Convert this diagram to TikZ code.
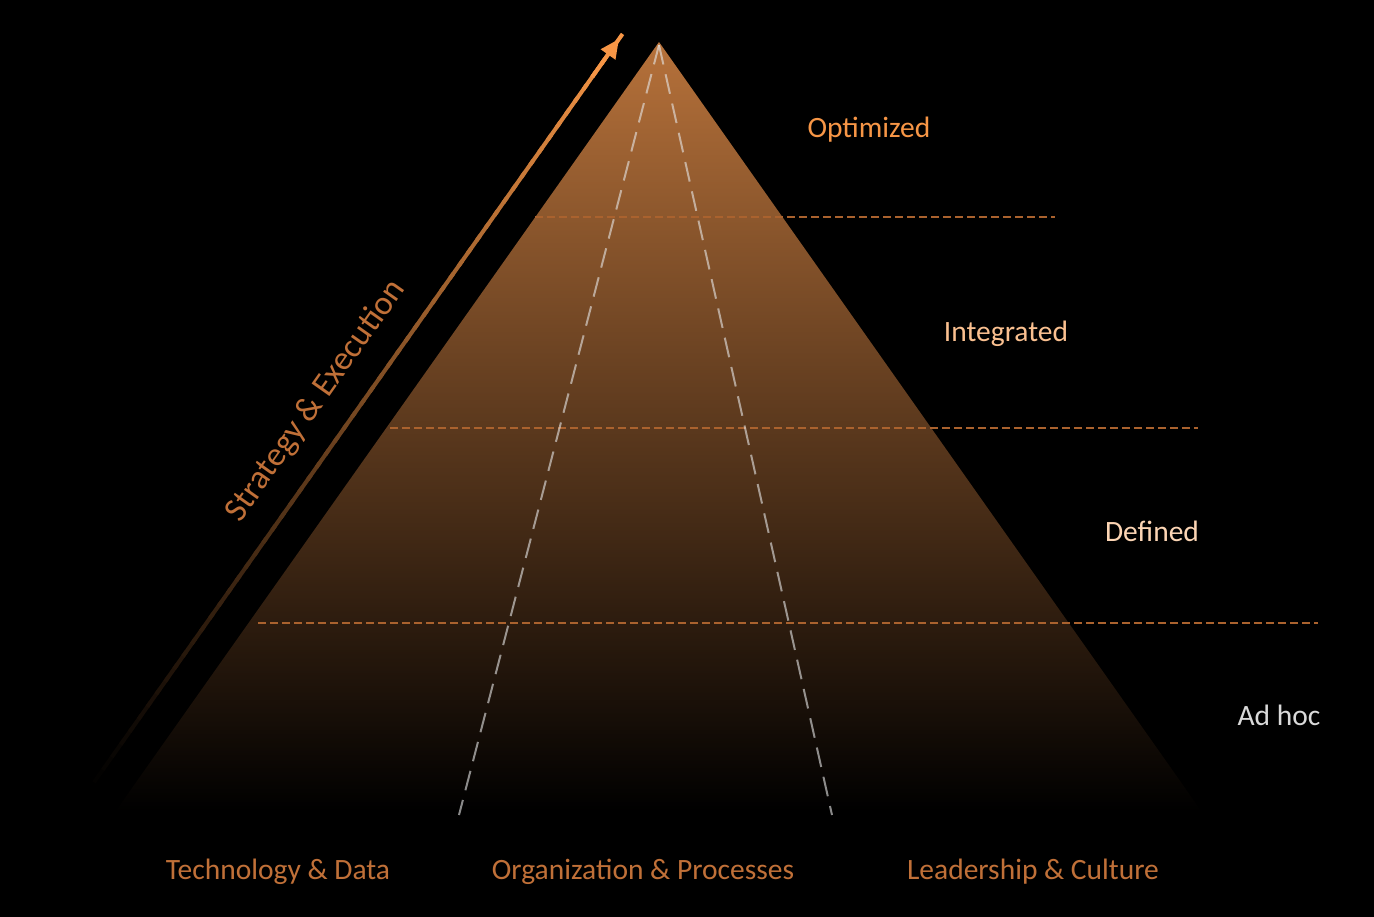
\documentclass[tikz,border=0pt]{standalone}
\usepackage{fontspec}
\setmainfont{Carlito}
\usetikzlibrary{arrows.meta,calc}
\definecolor{pyrtop}{RGB}{182,113,58}
\definecolor{pyrmid}{RGB}{102,62,31}
\definecolor{arrowc}{RGB}{247,150,70}
\definecolor{levline}{RGB}{170,98,46}
\definecolor{pillarc}{RGB}{230,230,230}
\definecolor{optc}{RGB}{247,150,70}
\definecolor{intc}{RGB}{250,192,144}
\definecolor{defc}{RGB}{252,213,180}
\definecolor{adhc}{RGB}{217,217,217}
\definecolor{basec}{RGB}{192,112,56}
\tikzset{
  lbl/.style={font=\fontsize{29.5}{34}\selectfont, inner sep=0pt},
  biglbl/.style={font=\fontsize{34}{40}\selectfont, inner sep=0pt},
  levdash/.style={levline, line width=1.6pt, dash pattern=on 8pt off 4pt},
  pillar/.style={pillarc, opacity=0.6, line width=2pt, dash pattern=on 20pt off 10pt},
}
\begin{document}
\begin{tikzpicture}[x=1pt,y=-1pt]
\fill[black] (0,0) rectangle (1374,917);
\useasboundingbox (0,0) rectangle (1374,917);
% pyramid
\coordinate (apex) at (659,42);
\coordinate (bl) at (115,812);
\coordinate (br) at (1202,812);
\shade[top color=pyrtop, middle color=pyrmid, bottom color=black] (apex) -- (bl) -- (br) -- cycle;
% level lines
\coordinate (l1a) at (535,217); \coordinate (l1b) at (1055,217);
\coordinate (l2a) at (390,428); \coordinate (l2b) at (1198,428);
\coordinate (l3a) at (258,623); \coordinate (l3b) at (1318,623);
\draw[levdash] (l1a) -- (l1b);
\draw[levdash] (l2a) -- (l2b);
\draw[levdash] (l3a) -- (l3b);
% pillars
\coordinate (p0) at (659,45);
\coordinate (pl) at (459,815);
\coordinate (pr) at (832,815);
\draw[pillar] (p0) -- (pl);
\draw[pillar] (p0) -- (pr);
% arrow with gradient
\coordinate (aS) at (85,795);
\coordinate (aE) at (619,39);
\foreach \i in {0,...,59}{
  \pgfmathsetmacro\p{100*(\i/59)^1.1}
  \draw[line width=4pt, color=arrowc!\p!black]
    ($(aS)!{\i/60}!(aE)$) -- ($(aS)!{(\i+1.4)/60}!(aE)$);
}
\draw[line width=4pt, arrowc, -{Triangle[length=19pt,width=17pt]}] ($(aS)!0.95!(aE)$) -- (aE);
\node[biglbl, basec, rotate=54.8] (strat) at (316,401) {Strategy \& Execution};
% level labels
\node[lbl, optc] (opt) at (869,130) {Optimized};
\node[lbl, intc] (int) at (1006,334) {Integrated};
\node[lbl, defc] (def) at (1152,531) {Defined};
\node[lbl, adhc] (adh) at (1279,715) {Ad hoc};
% pillar labels
\node[lbl, basec] (tech) at (278,872) {Technology \& Data};
\node[lbl, basec] (org) at (643,872) {Organization \& Processes};
\node[lbl, basec] (lead) at (1033,872) {Leadership \& Culture};
\end{tikzpicture}
\end{document}
